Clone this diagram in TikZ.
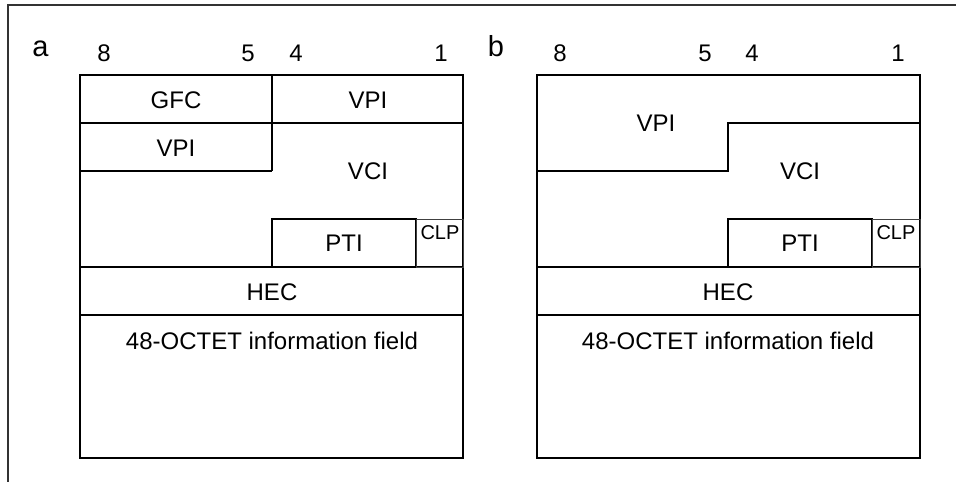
\documentclass[tikz,border=0pt]{standalone}
\usepackage{fontspec}
\setmainfont{Liberation Sans}
\begin{document}
\begin{tikzpicture}[x=1pt,y=-1pt,
  cell/.style={draw=black,line width=1.8pt},
  thin/.style={draw=black!75,line width=1pt},
  frame/.style={draw=black!80,line width=2pt},
  lbl/.style={anchor=base,inner sep=0pt,font=\fontsize{24}{26}\selectfont},
  big/.style={anchor=base,inner sep=0pt,font=\fontsize{29}{32}\selectfont},
  small/.style={anchor=base,inner sep=0pt,font=\fontsize{20}{22}\selectfont}]
\useasboundingbox (0,0) rectangle (956,482);
% outer frame
\draw[frame] (8,482) -- (8,5) -- (956,5);
% ---------- a ----------
\node[big] (la) at (40.5,56) {a};
\node[lbl] (a8) at (104,61) {8};
\node[lbl] (a5) at (248,61) {5};
\node[lbl] (a4) at (296,61) {4};
\node[lbl] (a1) at (441,61) {1};
\draw[cell] (80,75) rectangle (463,458);
\draw[cell] (80,123) -- (463,123);
\draw[cell] (272,75) -- (272,171);
\draw[cell] (80,171) -- (272,171);
\draw[cell] (272,267) -- (272,219) -- (416,219) -- (416,267);
\draw[cell] (80,267) -- (463,267);
\draw[cell] (80,315) -- (463,315);
\draw[thin] (416,219) rectangle (463,267);
\node[lbl] (agfc) at (176,108) {GFC};
\node[lbl] (avpi1) at (368,108) {VPI};
\node[lbl] (avpi2) at (176,156) {VPI};
\node[lbl] (avci) at (368,179) {VCI};
\node[lbl] (apti) at (344,251.5) {PTI};
\node[small] (aclp) at (440,239) {CLP};
\node[lbl] (ahec) at (272,300) {HEC};
\node[lbl] (ainfo) at (272,349) {48-OCTET information field};
% ---------- b ----------
\node[big] (lb) at (496,56) {b};
\node[lbl] (b8) at (560,61) {8};
\node[lbl] (b5) at (705,61) {5};
\node[lbl] (b4) at (752,61) {4};
\node[lbl] (b1) at (898,61) {1};
\draw[cell] (537,75) rectangle (920,458);
\draw[cell] (537,171) -- (728,171) -- (728,123) -- (920,123);
\draw[cell] (728,267) -- (728,219) -- (872,219) -- (872,267);
\draw[cell] (537,267) -- (920,267);
\draw[cell] (537,315) -- (920,315);
\draw[thin] (872,219) rectangle (920,267);
\node[lbl] (bvpi) at (656,131) {VPI};
\node[lbl] (bvci) at (800,179) {VCI};
\node[lbl] (bpti) at (800,251.5) {PTI};
\node[small] (bclp) at (896,239) {CLP};
\node[lbl] (bhec) at (728,300) {HEC};
\node[lbl] (binfo) at (728,349) {48-OCTET information field};
\end{tikzpicture}
\end{document}
